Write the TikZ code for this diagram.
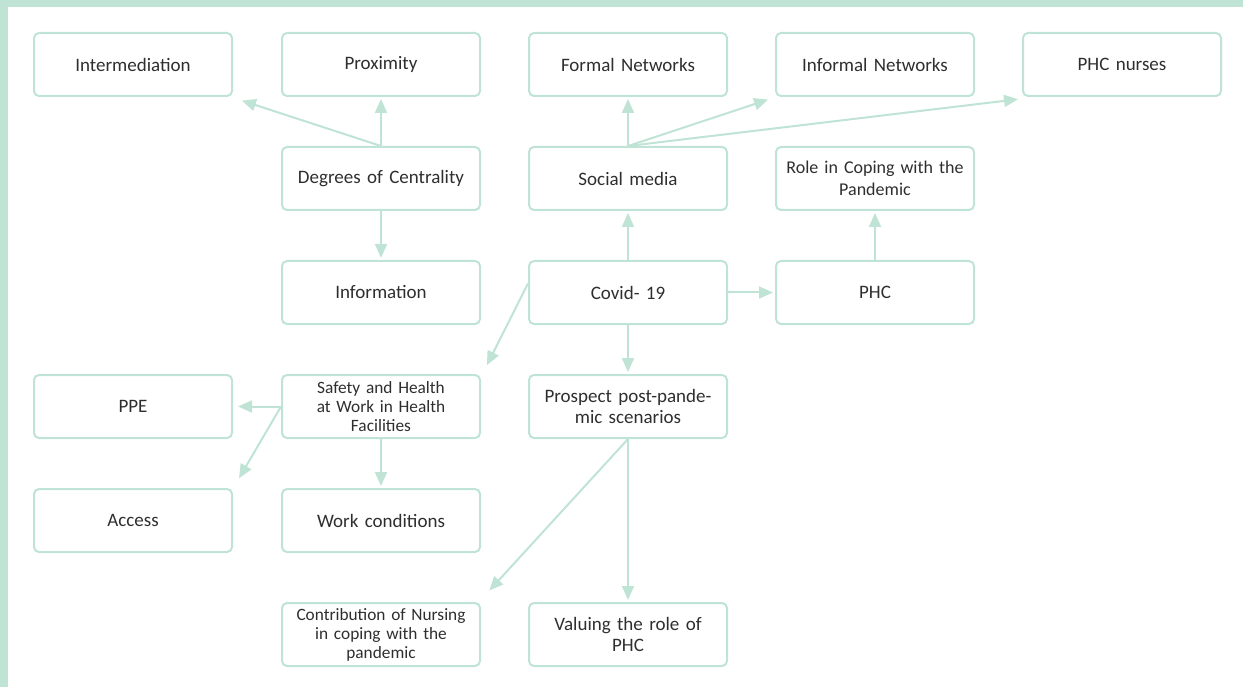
\documentclass[tikz,border=0pt]{standalone}
\usepackage{fontspec}
\setmainfont{Carlito}
\usetikzlibrary{arrows.meta}
\definecolor{mint}{HTML}{BFE3D4}
\definecolor{txt}{HTML}{2E2E2E}
\begin{document}
\begin{tikzpicture}[x=1pt,y=-1pt,
 box/.style={draw=mint, line width=2pt, rounded corners=5pt, minimum width=198pt, minimum height=63pt, text width=194pt, align=center, text=txt, font=\fontsize{19}{21}\selectfont, inner sep=0pt},
 small/.style={font=\fontsize{17.3}{19}\selectfont},
 role/.style={font=\fontsize{18}{22}\selectfont},
 arr/.style={draw=mint, line width=2pt, shorten >=2pt, -{Triangle[length=14pt,width=12pt]}}]
\useasboundingbox (0,0) rectangle (1243,687);
\fill[mint] (0,0) rectangle (1243,7);
\fill[mint] (0,0) rectangle (8,687);

\node[box] (inter) at (133,64.5) {Intermediation};
\node[box] (prox) at (381,64.5) {Proximity};
\node[box] (formal) at (628,64.5) {Formal Networks};
\node[box] (inform) at (875,64.5) {Informal Networks};
\node[box] (nurses) at (1122,64.5) {PHC nurses};

\node[box] (deg) at (381,178.5) {Degrees of Centrality};
\node[box] (social) at (628,178.5) {Social media};
\node[box,role] (role) at (875,178.5) {Role in Coping with the\\Pandemic};

\node[box] (info) at (381,292.5) {Information};
\node[box] (covid) at (628,292.5) {Covid- 19};
\node[box] (phc) at (875,292.5) {PHC};

\node[box] (ppe) at (133,406.5) {PPE};
\node[box,small] (safety) at (381,406.5) {Safety and Health\\at Work in Health\\Facilities};
\node[box] (prospect) at (628,406.5) {Prospect post-pande-\\mic scenarios};

\node[box] (access) at (133,520.5) {Access};
\node[box] (work) at (381,520.5) {Work conditions};

\node[box,small] (contrib) at (381,634.5) {Contribution of Nursing\\in coping with the\\pandemic};
\node[box] (valuing) at (628,634.5) {Valuing the role of\\PHC};

\draw[arr] (deg.north) -- ([xshift=7pt,yshift=-3pt]inter.south east);
\draw[arr] (deg.north) -- (prox.south);
\draw[arr] (deg.south) -- (info.north);
\draw[arr] (social.north) -- (formal.south);
\draw[arr] (social.north) -- ([xshift=-5pt,yshift=-2pt]inform.south west);
\draw[arr] (social.north) -- ([xshift=-2pt,yshift=-2pt]nurses.south west);
\draw[arr] (covid.north) -- (social.south);
\draw[arr] (covid.east) -- (phc.west);
\draw[arr] (phc.north) -- (role.south);
\draw[arr] ([yshift=9pt]covid.west) -- ([xshift=5pt,yshift=7pt]safety.north east);
\draw[arr] (covid.south) -- (prospect.north);
\draw[arr] (safety.west) -- ([xshift=3pt]ppe.east);
\draw[arr] (safety.west) -- ([xshift=5pt,yshift=8pt]access.north east);
\draw[arr] (safety.south) -- (work.north);
\draw[arr] (prospect.south) -- (valuing.north);
\draw[arr] (prospect.south) -- ([xshift=7pt,yshift=10pt]contrib.north east);
\end{tikzpicture}
\end{document}
